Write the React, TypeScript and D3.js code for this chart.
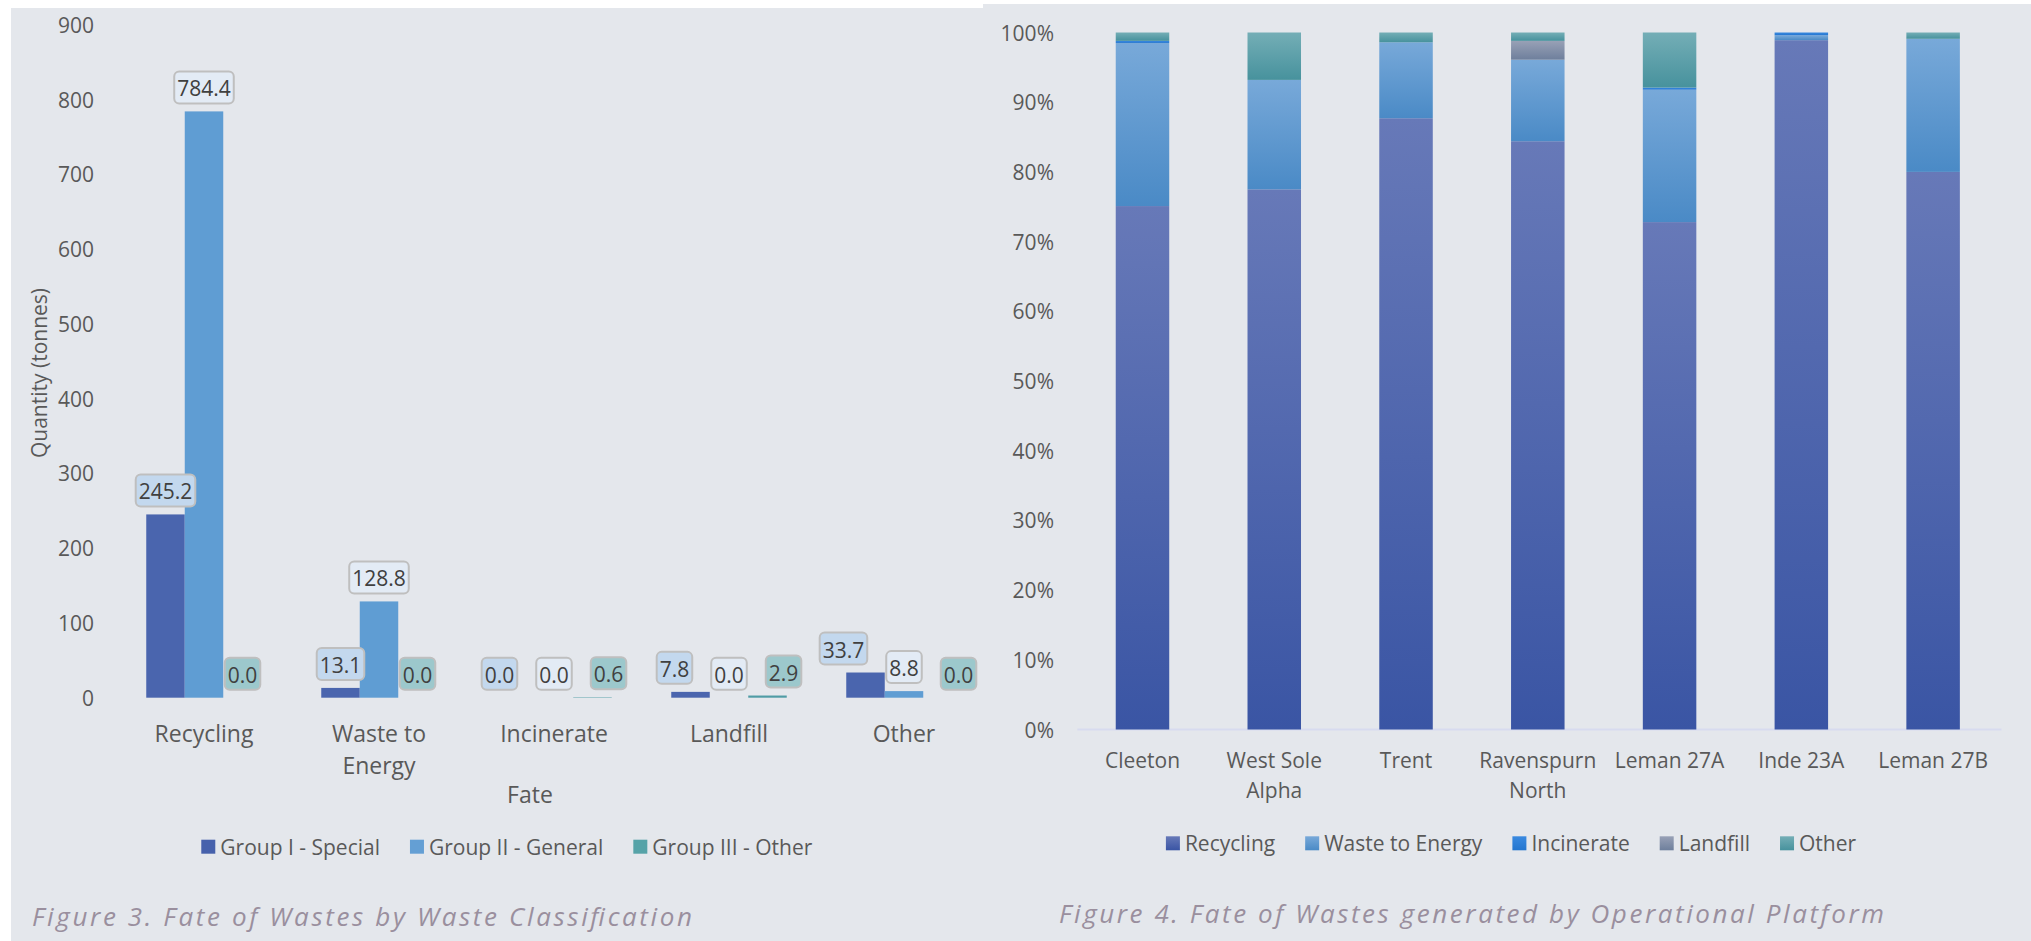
import React from "react";
import * as d3 from "d3";

// ---------- Figure 3 data ----------
const fates = ["Recycling", "Waste to Energy", "Incinerate", "Landfill", "Other"];
const groups = ["Group I - Special", "Group II - General", "Group III - Other"];
const groupI = [245.2, 13.1, 0.0, 7.8, 33.7];
const groupII = [784.4, 128.8, 0.0, 0.0, 8.8];
const groupIII = [0.0, 0.0, 0.6, 2.9, 0.0];
const leftTicks = [0, 100, 200, 300, 400, 500, 600, 700, 800, 900];

// ---------- Figure 4 data (percent of platform total) ----------
const platforms = ["Cleeton", "West Sole Alpha", "Trent", "Ravenspurn North", "Leman 27A", "Inde 23A", "Leman 27B"];
const fateKeys = ["Recycling", "Waste to Energy", "Incinerate", "Landfill", "Other"];
const recycling = [75.1, 77.5, 87.7, 84.4, 72.8, 98.9, 80.0];
const wasteToEnergy = [23.4, 15.7, 10.9, 11.7, 19.0, 0.7, 19.1];
const incinerate = [0.3, 0.0, 0.0, 0.0, 0.3, 0.4, 0.0];
const landfill = [0.0, 0.0, 0.0, 2.7, 0.0, 0.0, 0.0];
const other = [1.2, 6.8, 1.4, 1.2, 7.9, 0.0, 0.9];
const rightTicks = [0, 10, 20, 30, 40, 50, 60, 70, 80, 90, 100];

const FONT = "'Open Sans', 'Noto Sans', sans-serif";
const TXT = "#595959";
const BG = "#e4e7ec";
const CAP = "#9a8f9e";

let _ctx: CanvasRenderingContext2D | null = null;
function measure(text: string, size: number, style = "normal") {
  if (!_ctx) _ctx = document.createElement("canvas").getContext("2d");
  if (!_ctx) return text.length * size * 0.55;
  _ctx.font = `${style} ${size}px 'Open Sans'`;
  return _ctx.measureText(text).width;
}
function wrap(text: string, size: number, maxW: number) {
  const words = text.split(" ");
  const lines: string[] = [];
  let cur = "";
  words.forEach((w) => {
    const t = cur ? cur + " " + w : w;
    if (cur && measure(t, size) > maxW) {
      lines.push(cur);
      cur = w;
    } else cur = t;
  });
  if (cur) lines.push(cur);
  return lines;
}

function Legend({ items, cx, cy, size }: { items: { label: string; fill: string }[]; cx: number; cy: number; size: number }) {
  const sq = 14, gapT = 5, gapI = 30;
  const widths = items.map((it) => sq + gapT + measure(it.label, size));
  const total = d3.sum(widths) + gapI * (items.length - 1);
  let x = cx - total / 2;
  return (
    <g>
      {items.map((it, i) => {
        const x0 = x;
        x += widths[i] + gapI;
        return (
          <g key={it.label}>
            <rect x={x0} y={cy - sq / 2} width={sq} height={sq} fill={it.fill} />
            <text x={x0 + sq + gapT} y={cy} dominantBaseline="central" fontSize={size} fill={TXT} fontFamily={FONT}>
              {it.label}
            </text>
          </g>
        );
      })}
    </g>
  );
}

function LeftChart() {
  const y = d3.scaleLinear().domain([0, 900]).range([697.7, 25]);
  const x0 = d3.scaleBand<string>().domain(fates).range([116.5, 991.5]);
  const x1 = d3.scaleBand<string>().domain(groups).range([29.75, 145.25]);
  const series = [groupI, groupII, groupIII];
  const barColors = ["#4a65ae", "#5f9dd3", "#4f9ca5"];
  const legendColors = ["#4661ac", "#649fd4", "#56a3a8"];
  const labelFills = ["#c3d8ee", "#e3ebf5", "#9cc8cc"];
  const FS = 21;
  const CFS = 23;
  const MIN_GAP = 19;

  const labels: any[] = [];
  fates.forEach((f, i) => {
    const boxes = groups.map((g, j) => {
      const v = series[j][i];
      const bx = (x0(f) as number) + (x1(g) as number);
      const cx = bx + x1.bandwidth() / 2;
      const text = v.toFixed(1);
      const w = measure(text, FS) + 6;
      const bottom = y(v) - 8;
      return { text, cx, w, top: bottom - 32, bottom, j };
    });
    const vOverlap = (a: any, b: any) => a.top < b.bottom && b.top < a.bottom;
    const gap = (a: any, b: any) => b.cx - b.w / 2 - (a.cx + a.w / 2);
    if (vOverlap(boxes[0], boxes[1])) {
      const g = gap(boxes[0], boxes[1]);
      if (g < MIN_GAP) boxes[0].cx -= MIN_GAP - g;
    }
    if (vOverlap(boxes[1], boxes[2])) {
      const g = gap(boxes[1], boxes[2]);
      if (g < MIN_GAP) boxes[2].cx += MIN_GAP - g;
    }
    labels.push(...boxes);
  });

  return (
    <g fontFamily={FONT}>
      {leftTicks.map((t) => (
        <text key={t} x={94} y={y(t)} textAnchor="end" dominantBaseline="central" fontSize={FS} fill={TXT}>
          {t}
        </text>
      ))}
      <text transform={`translate(39,373) rotate(-90)`} textAnchor="middle" dominantBaseline="central" fontSize={FS} fill={TXT}>
        Quantity (tonnes)
      </text>
      {fates.map((f, i) =>
        groups.map((g, j) => {
          const v = series[j][i];
          return (
            <rect
              key={f + g}
              x={(x0(f) as number) + (x1(g) as number)}
              y={y(v)}
              width={x1.bandwidth()}
              height={y(0) - y(v)}
              fill={barColors[j]}
            />
          );
        })
      )}
      {labels.map((b, k) => (
        <g key={k}>
          <rect x={b.cx - b.w / 2} y={b.top} width={b.w} height={b.bottom - b.top} rx={5} fill={labelFills[b.j]} stroke="#bfbfbf" strokeWidth={2} />
          <text x={b.cx} y={(b.top + b.bottom) / 2 + 1} textAnchor="middle" dominantBaseline="central" fontSize={FS} fill="#404040">
            {b.text}
          </text>
        </g>
      ))}
      {fates.map((f) => {
        const lines = wrap(f, CFS, 150);
        const cx = (x0(f) as number) + x0.bandwidth() / 2;
        return lines.map((ln, k) => (
          <text key={f + k} x={cx} y={733 + k * 32} textAnchor="middle" dominantBaseline="central" fontSize={CFS} fill={TXT}>
            {ln}
          </text>
        ));
      })}
      <text x={530} y={794} textAnchor="middle" dominantBaseline="central" fontSize={CFS} fill={TXT}>
        Fate
      </text>
      <Legend items={groups.map((g, j) => ({ label: g, fill: legendColors[j] }))} cx={506.8} cy={846.7} size={FS} />
      <text x={32} y={916} dominantBaseline="central" fontSize={26} fontStyle="italic" fill={CAP} textLength={660} lengthAdjust="spacing">
        Figure 3. Fate of Wastes by Waste Classification
      </text>
    </g>
  );
}

function RightChart() {
  const FS = 21;
  const y = d3.scaleLinear().domain([0, 100]).range([729.5, 32.5]);
  const x = d3.scaleBand<string>().domain(platforms).range([1076.6, 1999]).paddingInner(0.594).paddingOuter(0.297);
  const rows = platforms.map((p, i) => ({
    platform: p,
    Recycling: recycling[i],
    "Waste to Energy": wasteToEnergy[i],
    Incinerate: incinerate[i],
    Landfill: landfill[i],
    Other: other[i],
  }));
  const stacked = d3.stack<any>().keys(fateKeys)(rows);
  const grads: Record<string, [string, string]> = {
    Recycling: ["#6779b8", "#3a55a4"],
    "Waste to Energy": ["#78a9d9", "#4a8ac6"],
    Incinerate: ["#3a8ae0", "#2476cf"],
    Landfill: ["#98a1b6", "#6e7f9c"],
    Other: ["#74aeb6", "#47929d"],
  };
  const gid = (k: string) => "g4-" + k.replace(/\s+/g, "");
  return (
    <g fontFamily={FONT}>
      <defs>
        {fateKeys.map((k) => (
          <linearGradient key={k} id={gid(k)} x1="0" y1="0" x2="0" y2="1">
            <stop offset="0" stopColor={grads[k][0]} />
            <stop offset="1" stopColor={grads[k][1]} />
          </linearGradient>
        ))}
      </defs>
      {rightTicks.map((t) => (
        <text key={t} x={1054} y={y(t)} textAnchor="end" dominantBaseline="central" fontSize={FS} fill={TXT}>
          {t}%
        </text>
      ))}
      <line x1={1077.4} x2={2001.5} y1={y(0)} y2={y(0)} stroke="#d7dbef" strokeWidth={2} />
      {stacked.map((s) =>
        s.map((d: any) =>
          d[1] - d[0] > 0 ? (
            <rect
              key={s.key + d.data.platform}
              x={x(d.data.platform)}
              y={y(d[1])}
              width={x.bandwidth()}
              height={y(d[0]) - y(d[1])}
              fill={`url(#${gid(s.key)})`}
            />
          ) : null
        )
      )}
      {platforms.map((p) => {
        const lines = wrap(p, FS, 125);
        const cx = (x(p) as number) + x.bandwidth() / 2;
        return lines.map((ln, k) => (
          <text key={p + k} x={cx} y={760 + k * 30} textAnchor="middle" dominantBaseline="central" fontSize={FS} fill={TXT}>
            {ln}
          </text>
        ));
      })}
      <Legend items={fateKeys.map((k) => ({ label: k, fill: `url(#${gid(k)})` }))} cx={1511} cy={843.3} size={FS} />
      <text x={1059} y={913} dominantBaseline="central" fontSize={26} fontStyle="italic" fill={CAP} textLength={825} lengthAdjust="spacing">
        Figure 4. Fate of Wastes generated by Operational Platform
      </text>
    </g>
  );
}

export default function App() {
  return (
    <svg width={2031} height={941} style={{ position: "absolute", left: 0, top: 0, display: "block" }}>
      <rect x={0} y={0} width={2031} height={941} fill="#ffffff" />
      <rect x={11} y={8} width={972} height={933} fill={BG} />
      <rect x={983} y={4} width={1048} height={937} fill={BG} />
      <LeftChart />
      <RightChart />
    </svg>
  );
}
